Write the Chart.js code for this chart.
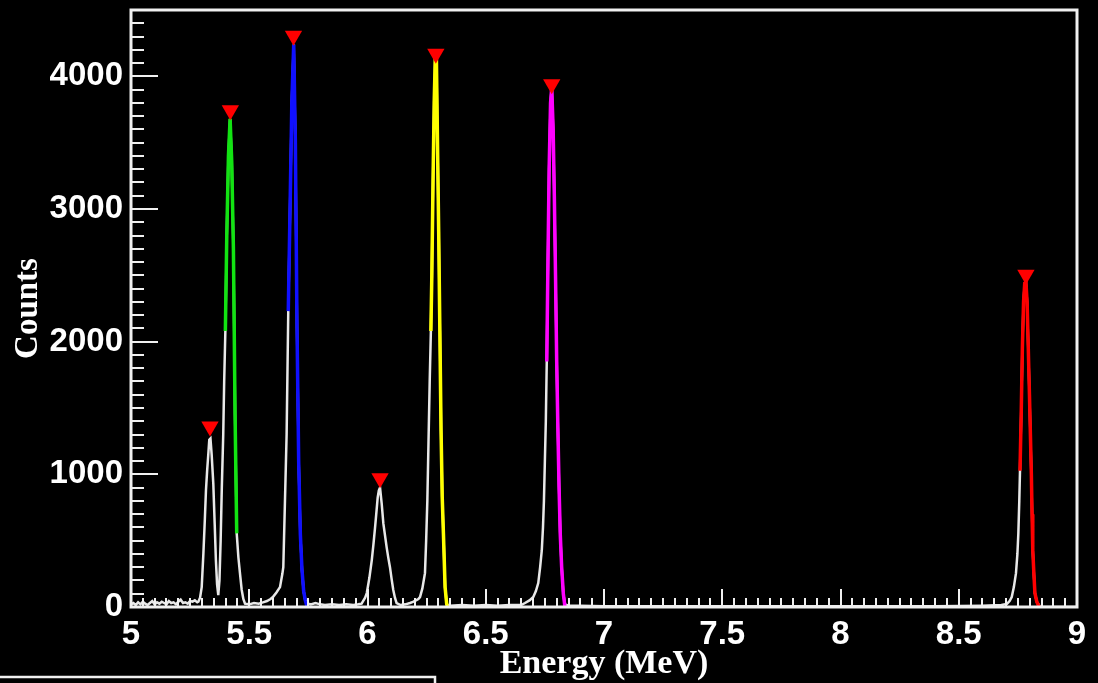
<!DOCTYPE html>
<html>
<head>
<meta charset="utf-8">
<title>Alpha spectrum</title>
<script src="https://cdn.jsdelivr.net/npm/chart.js@4.4.1/dist/chart.umd.min.js"></script>
<style>
    html, body { margin: 0; padding: 0; background: #000; }
    #wrap { width: 1098px; height: 683px; position: relative; }
</style>
</head>
<body>
<div id="wrap"><canvas id="spectrumChart"></canvas></div>
<script>
// measured spectrum, [energy MeV, counts]
const spectrum = [
    [5.000, 20], [5.010, 30], [5.020, 15], [5.030, 35], [5.040, 20], [5.050, 40],
    [5.060, 25], [5.070, 15], [5.080, 30], [5.090, 45], [5.100, 20], [5.110, 35],
    [5.120, 25], [5.130, 40], [5.140, 30], [5.150, 20], [5.160, 45], [5.170, 30],
    [5.180, 35], [5.190, 20], [5.200, 40], [5.210, 55], [5.220, 30], [5.230, 35],
    [5.240, 25], [5.250, 45], [5.260, 40], [5.270, 50], [5.280, 35], [5.285, 40],
    [5.292, 70], [5.299, 150], [5.306, 400], [5.312, 650], [5.317, 880], [5.322, 1030],
    [5.327, 1155], [5.331, 1260], [5.336, 1270], [5.341, 1150], [5.348, 930], [5.354, 620],
    [5.359, 350], [5.364, 170], [5.369, 90], [5.374, 200], [5.379, 500], [5.384, 900],
    [5.390, 1300], [5.394, 1700], [5.399, 2080], [5.405, 2800], [5.412, 3400], [5.419, 3680],
    [5.426, 3350], [5.433, 2700], [5.440, 1455], [5.447, 555], [5.454, 375], [5.461, 250],
    [5.468, 130], [5.475, 60], [5.482, 25], [5.500, 20], [5.520, 30], [5.540, 25],
    [5.558, 35], [5.575, 45], [5.590, 60], [5.600, 75], [5.615, 110], [5.630, 150],
    [5.640, 250], [5.644, 300], [5.651, 800], [5.658, 1300], [5.665, 2230], [5.672, 2950],
    [5.680, 3800], [5.688, 4240], [5.695, 3500], [5.702, 2100], [5.709, 1100], [5.716, 550],
    [5.723, 280], [5.730, 120], [5.737, 50], [5.745, 25], [5.760, 20], [5.780, 30],
    [5.800, 20], [5.820, 15], [5.850, 20], [5.880, 15], [5.910, 20], [5.940, 15],
    [5.960, 20], [5.975, 25], [5.990, 70], [5.997, 105], [6.008, 220], [6.018, 352],
    [6.025, 470], [6.032, 600], [6.038, 720], [6.043, 825], [6.048, 880], [6.053, 900],
    [6.060, 780], [6.067, 630], [6.074, 540], [6.081, 450], [6.088, 370], [6.095, 300],
    [6.102, 210], [6.109, 128], [6.116, 70], [6.123, 30], [6.140, 15], [6.160, 20],
    [6.180, 30], [6.192, 38], [6.205, 50], [6.215, 60], [6.222, 75], [6.232, 140],
    [6.243, 255], [6.248, 500], [6.253, 800], [6.258, 1250], [6.263, 1700], [6.268, 2080],
    [6.272, 2500], [6.277, 3200], [6.282, 3800], [6.287, 4170], [6.291, 4170], [6.296, 3500],
    [6.301, 2830], [6.306, 2080], [6.311, 1330], [6.316, 825], [6.321, 555], [6.328, 150],
    [6.335, 20], [6.350, 10], [6.400, 15], [6.450, 10], [6.500, 15], [6.550, 10],
    [6.600, 15], [6.650, 15], [6.666, 30], [6.685, 50], [6.701, 75], [6.712, 120],
    [6.722, 180], [6.730, 300], [6.737, 428], [6.742, 600], [6.746, 800], [6.750, 1100],
    [6.754, 1400], [6.758, 1850], [6.763, 2600], [6.768, 3300], [6.774, 3800], [6.779, 3915],
    [6.785, 3600], [6.790, 3100], [6.795, 2500], [6.800, 1852], [6.805, 1350], [6.810, 900],
    [6.815, 550], [6.821, 300], [6.828, 100], [6.835, 20], [6.850, 10], [6.900, 10],
    [7.000, 5], [7.200, 5], [7.500, 5], [7.800, 5], [8.000, 5], [8.200, 5],
    [8.400, 5], [8.600, 10], [8.680, 15], [8.703, 22], [8.715, 45], [8.724, 75],
    [8.733, 150], [8.742, 255], [8.748, 400], [8.752, 555], [8.756, 800], [8.759, 1027],
    [8.764, 1450], [8.769, 1950], [8.774, 2300], [8.779, 2440], [8.784, 2450], [8.789, 2300],
    [8.794, 1950], [8.799, 1600], [8.803, 1300], [8.807, 1000], [8.810, 700], [8.813, 428],
    [8.818, 240], [8.822, 105], [8.830, 40], [8.844, 0], [8.900, 0], [9.000, 0]
];

// peak fits
const fit5423 = [
    [5.399, 2080], [5.405, 2800], [5.412, 3400], [5.419, 3680], [5.426, 3350],
    [5.433, 2700], [5.440, 1455], [5.447, 555]
];
const fit5685 = [
    [5.665, 2230], [5.672, 2950], [5.680, 3800], [5.688, 4240], [5.695, 3500], [5.702, 2100],
    [5.709, 1100], [5.716, 550], [5.723, 280], [5.730, 120], [5.737, 50], [5.745, 0]
];
const fit6288 = [
    [6.268, 2080], [6.272, 2500], [6.277, 3200], [6.282, 3800], [6.287, 4170], [6.291, 4170],
    [6.296, 3500], [6.301, 2830], [6.306, 2080], [6.311, 1330], [6.316, 825], [6.321, 555],
    [6.328, 150], [6.335, 20], [6.340, 0]
];
const fit6778 = [
    [6.758, 1850], [6.763, 2600], [6.768, 3300], [6.774, 3800], [6.779, 3915], [6.785, 3600],
    [6.790, 3100], [6.795, 2500], [6.800, 1852], [6.805, 1350], [6.810, 900], [6.815, 550],
    [6.821, 300], [6.828, 100], [6.835, 0]
];
const fit8785 = [
    [8.759, 1027], [8.764, 1450], [8.769, 1950], [8.774, 2300], [8.779, 2440], [8.784, 2450],
    [8.789, 2300], [8.794, 1950], [8.799, 1600], [8.803, 1300], [8.807, 1000], [8.810, 700],
    [8.813, 428], [8.818, 240], [8.822, 105], [8.830, 40], [8.840, 0]
];

// peak search markers
const peakEnergy = [5.334, 5.420, 5.687, 6.053, 6.289, 6.779, 8.784];
const peakCounts = [1360, 3745, 4305, 970, 4170, 3940, 2505];

// labelled axis values
const energyTicks = [5, 5.5, 6, 6.5, 7, 7.5, 8, 8.5, 9];
const countTicks = [0, 1000, 2000, 3000, 4000];

const toXY = arr => arr.map(([x, y]) => ({ x, y }));

// frame, inward ticks and the neighbouring panel edge
const frameAndTicks = {
    id: 'frameAndTicks',
    afterDatasetsDraw(chart) {
        const { ctx, chartArea: a, scales: { x, y } } = chart;
        ctx.save();
        ctx.strokeStyle = '#f0f0f0';
        ctx.lineWidth = 2;
        for (let i = 0; i <= 80; i++) {
            const px = Math.round(x.getPixelForValue(5 + i * 0.05));
            const len = i % 10 === 0 ? 18 : 9;
            ctx.beginPath();
            ctx.moveTo(px, a.bottom);
            ctx.lineTo(px, a.bottom - len);
            ctx.stroke();
        }
        for (let i = 0; i <= 45; i++) {
            const py = Math.round(y.getPixelForValue(i * 100));
            const len = i % 10 === 0 ? 27 : 13;
            ctx.beginPath();
            ctx.moveTo(a.left, py);
            ctx.lineTo(a.left + len, py);
            ctx.stroke();
        }
        ctx.lineWidth = 3;
        ctx.strokeRect(a.left, a.top, a.right - a.left, a.bottom - a.top);

        ctx.lineWidth = 2.5;
        ctx.beginPath();
        ctx.moveTo(0, 677);
        ctx.lineTo(435, 677);
        ctx.lineTo(435, 690);
        ctx.stroke();
        ctx.restore();
    }
};

function fitSet(data, color) {
    return {
        data: toXY(data),
        borderColor: color,
        borderWidth: 3.5,
        pointRadius: 0,
        tension: 0,
        order: 1
    };
}

const tickFont = { family: 'Liberation Sans', weight: 'bold', size: 33 };

new Chart(document.getElementById('spectrumChart'), {
    type: 'line',
    data: {
        datasets: [
            {
                data: toXY(spectrum),
                borderColor: '#e8e8e8',
                borderWidth: 2.5,
                pointRadius: 0,
                tension: 0,
                order: 2
            },
            fitSet(fit5423, '#12e312'),
            fitSet(fit5685, '#1010ff'),
            fitSet(fit6288, '#ffff00'),
            fitSet(fit6778, '#ff00ff'),
            fitSet(fit8785, '#ff0000'),
            {
                data: peakEnergy.map((e, i) => ({ x: e, y: peakCounts[i] })),
                showLine: false,
                pointStyle: 'triangle',
                rotation: 180,
                pointRadius: 10,
                backgroundColor: '#ff0000',
                borderWidth: 0,
                order: 0
            }
        ]
    },
    options: {
        responsive: true,
        maintainAspectRatio: false,
        animation: false,
        layout: { padding: { top: 7, right: 21, left: 0, bottom: 0 } },
        plugins: {
            legend: { display: false },
            tooltip: { enabled: false }
        },
        scales: {
            x: {
                type: 'linear',
                min: 5,
                max: 9,
                afterBuildTicks: s => { s.ticks = energyTicks.map(v => ({ value: v })); },
                afterFit: s => {
                    s.height = 76;
                    s.paddingLeft = 0;
                    s.paddingRight = 0;
                },
                grid: { display: false, drawTicks: false },
                border: { display: false },
                ticks: {
                    color: '#ffffff',
                    padding: 8,
                    maxRotation: 0,
                    autoSkip: false,
                    font: tickFont,
                    callback: v => String(v)
                },
                title: {
                    display: true,
                    text: 'Energy (MeV)',
                    color: '#ffffff',
                    padding: { top: 0, bottom: 2 },
                    font: { family: 'Liberation Serif', weight: 'bold', size: 34, lineHeight: 1 }
                }
            },
            y: {
                min: 0,
                max: 4500,
                afterBuildTicks: s => { s.ticks = countTicks.map(v => ({ value: v })); },
                afterFit: s => {
                    s.width = 131;
                    s.paddingTop = 0;
                    s.paddingBottom = 0;
                },
                grid: { display: false, drawTicks: false },
                border: { display: false },
                ticks: {
                    autoSkip: false,
                    color: '#ffffff',
                    padding: 8,
                    font: tickFont,
                    callback: v => String(v)
                },
                title: {
                    display: true,
                    text: 'Counts',
                    color: '#ffffff',
                    padding: { top: 12, bottom: 0 },
                    font: { family: 'Liberation Serif', weight: 'bold', size: 33, lineHeight: 1 }
                }
            }
        }
    },
    plugins: [frameAndTicks]
});
</script>
</body>
</html>
